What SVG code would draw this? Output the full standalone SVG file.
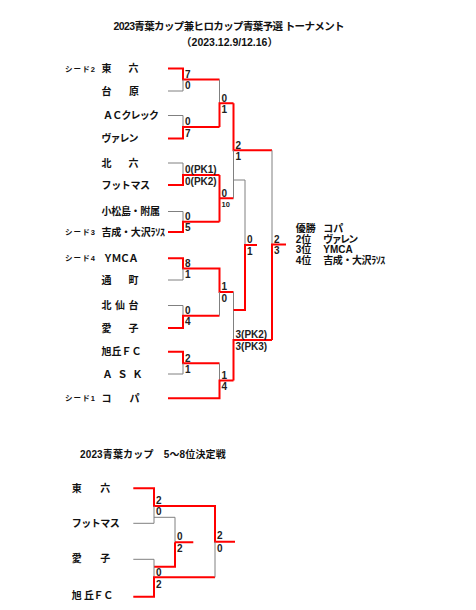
<svg xmlns="http://www.w3.org/2000/svg" width="476" height="610" viewBox="0 0 476 610">
<style>
text{font-family:"Liberation Sans","Noto Sans CJK JP",sans-serif;fill:#111}
.t{font-size:10.5px;font-weight:bold}
.n{font-size:10px;font-weight:bold}
.sd{font-size:7.5px;font-weight:bold}
.s{font-size:10px;font-weight:bold;fill:#222}
.s2{font-size:7.5px;font-weight:bold;fill:#222}
.r{stroke:#ff0000;stroke-width:2;fill:none}
.g{stroke:#808080;stroke-width:1;fill:none}
</style>
<rect width="476" height="610" fill="#fff"/>
<g id="title">
<text class="t" x="229" y="29.5" text-anchor="middle" textLength="231">2023青葉カップ兼ヒロカップ青葉予選 トーナメント</text>
<text class="t" x="229.5" y="46" text-anchor="middle">（2023.12.9/12.16）</text>
</g>
<g id="connectors">
<path class="r" d="M168,68.5H183V79.5H219.5"/>
<path class="g" d="M168,91H183V79.5"/>
<path class="g" d="M168,115.5H183V127"/>
<path class="r" d="M168,138.5H183V127H219.5"/>
<path class="g" d="M219.5,79.5V103.3"/>
<path class="r" d="M219.5,127V103.3H233.5"/>
<path class="g" d="M168,163H183V175"/>
<path class="r" d="M168,185H183V175H219.5"/>
<path class="g" d="M168,211.5H183V221.7"/>
<path class="r" d="M168,232H183V221.7H219.5"/>
<path class="r" d="M219.5,175V221.7M219.5,198.3H233.5"/>
<path class="r" d="M233.5,103.3V150.3H272"/>
<path class="g" d="M233.5,150.3V198.3"/>
<path class="g" d="M233.5,180H245V245"/>
<path class="r" d="M168,258.3H183V268.5H219.5V292H233.5"/>
<path class="g" d="M168,280H183V268.5"/>
<path class="g" d="M168,305.5H183V315.7"/>
<path class="r" d="M168,328H183V315.7H219.5"/>
<path class="g" d="M219.5,292V315.7"/>
<path class="r" d="M168,351.7H183V363.3H219.5"/>
<path class="g" d="M168,374H183V363.3"/>
<path class="g" d="M219.5,363.3V380.5"/>
<path class="r" d="M168,398.3H219.5V380.5H233.5"/>
<path class="g" d="M233.5,292V340"/>
<path class="r" d="M233.5,380.5V340H272"/>
<path class="r" d="M233.5,310H245V245H257"/>
<path class="g" d="M272,150.3V244.5"/>
<path class="r" d="M272,340V244.5H286"/>
<path class="r" d="M133.3,488.3H154V506H215V541.7H235"/>
<path class="g" d="M133.3,523.3H154V506"/>
<path class="g" d="M154,517.3H175V542.3"/>
<path class="r" d="M175,542.3H193.3M154,566.7H175V542.3"/>
<path class="g" d="M133.3,559.3H154V577.3"/>
<path class="r" d="M133.3,596.7H154V577.3H215"/>
<path class="g" d="M215,541.7V577.3"/>
</g>
<g id="scores">
<text class="s" x="185" y="77.8">7</text><text class="s" x="185" y="89">0</text>
<text class="s" x="185" y="125.3">0</text><text class="s" x="185" y="136.5">7</text>
<text class="s" x="185" y="173.3">0(PK1)</text><text class="s" x="185" y="184.5">0(PK2)</text>
<text class="s" x="185" y="220">0</text><text class="s" x="185" y="231.2">5</text>
<text class="s" x="185" y="266.8">8</text><text class="s" x="185" y="278">1</text>
<text class="s" x="185" y="314">0</text><text class="s" x="185" y="325.2">4</text>
<text class="s" x="185" y="361.6">2</text><text class="s" x="185" y="372.8">1</text>
<text class="s" x="221.5" y="101.6">0</text><text class="s" x="221.5" y="112.8">1</text>
<text class="s" x="221.5" y="196.6">0</text><text class="s2" x="221.5" y="206.5">10</text>
<text class="s" x="221.5" y="290.3">1</text><text class="s" x="221.5" y="301.5">0</text>
<text class="s" x="221.5" y="378.8">1</text><text class="s" x="221.5" y="390">4</text>
<text class="s" x="235.5" y="148.6">2</text><text class="s" x="235.5" y="159.8">1</text>
<text class="s" x="235.5" y="338.3">3(PK2)</text><text class="s" x="235.5" y="349.5">3(PK3)</text>
<text class="s" x="247" y="243.3">0</text><text class="s" x="247" y="254.5">1</text>
<text class="s" x="274" y="242.8">2</text><text class="s" x="274" y="254">3</text>
<text class="s" x="156" y="504">2</text><text class="s" x="156" y="515.3">0</text>
<text class="s" x="177" y="540.3">0</text><text class="s" x="177" y="552">2</text>
<text class="s" x="156" y="576">0</text><text class="s" x="156" y="588">2</text>
<text class="s" x="217" y="538.6">2</text><text class="s" x="217" y="551.6">0</text>
</g>
<g id="team-touroku"><text class="sd" x="65" y="71.5" textLength="30">シード2</text><text class="n" x="101.5" y="72" textLength="37">東　　六</text></g>
<g id="team-daihara"><text class="n" x="101.5" y="94.5" textLength="37.5">台　　原</text></g>
<g id="team-ac"><text class="n" x="103" y="119" textLength="56">ＡＣクレック</text></g>
<g id="team-varen"><text class="n" x="101.5" y="142" textLength="37">ヴァレン</text></g>
<g id="team-kitaroku"><text class="n" x="101.5" y="166.5" textLength="37">北　　六</text></g>
<g id="team-futomas"><text class="n" x="101.5" y="188.5" textLength="48.5">フットマス</text></g>
<g id="team-komatsu"><text class="n" x="101.5" y="215" textLength="58.5">小松島・附属</text></g>
<g id="team-yoshinari"><text class="sd" x="65" y="235" textLength="30">シード3</text><text class="n" x="101.5" y="235.5" textLength="63.5">吉成・大沢ﾗｿｽ</text></g>
<g id="team-ymca"><text class="sd" x="65" y="261.3" textLength="30">シード4</text><text class="n" x="103" y="261.8" textLength="35.5">ＹＭＣＡ</text></g>
<g id="team-toorimachi"><text class="n" x="101.5" y="283.5" textLength="37">通　　町</text></g>
<g id="team-kitasendai"><text class="n" x="101.5" y="309" textLength="37">北 仙 台</text></g>
<g id="team-aiko"><text class="n" x="101.5" y="331.5" textLength="37">愛　　子</text></g>
<g id="team-asahigaoka"><text class="n" x="101.5" y="355.2" textLength="40">旭丘ＦＣ</text></g>
<g id="team-ask"><text class="n" x="102.5" y="377.5" textLength="40">Ａ Ｓ Ｋ</text></g>
<g id="team-copa"><text class="sd" x="65" y="401.3" textLength="30">シード1</text><text class="n" x="101.5" y="401.8" textLength="38">コ　　パ</text></g>
<g id="results">
<text class="n" x="295.7" y="231.8">優勝</text><text class="n" x="323.3" y="231.8">コパ</text>
<text class="n" x="295.7" y="242.5">2位</text><text class="n" x="323.3" y="242.5" textLength="35">ヴァレン</text>
<text class="n" x="295.7" y="253">3位</text><text class="n" x="323.3" y="253">YMCA</text>
<text class="n" x="295.7" y="263.5">4位</text><text class="n" x="323.3" y="263.5" textLength="62">吉成・大沢ﾗｿｽ</text>
</g>
<g id="lower-title"><text class="n" x="80" y="457.5" textLength="145.7">2023青葉カップ　5～8位決定戦</text></g>
<g id="lower-touroku"><text class="n" x="71.7" y="491.8" textLength="38.5">東　　六</text></g>
<g id="lower-futomas"><text class="n" x="71.7" y="526.8" textLength="48">フットマス</text></g>
<g id="lower-aiko"><text class="n" x="71.7" y="561.8" textLength="38.5">愛　　子</text></g>
<g id="lower-asahigaoka"><text class="n" x="71.7" y="598.5" textLength="41.6">旭 丘ＦＣ</text></g>
</svg>
